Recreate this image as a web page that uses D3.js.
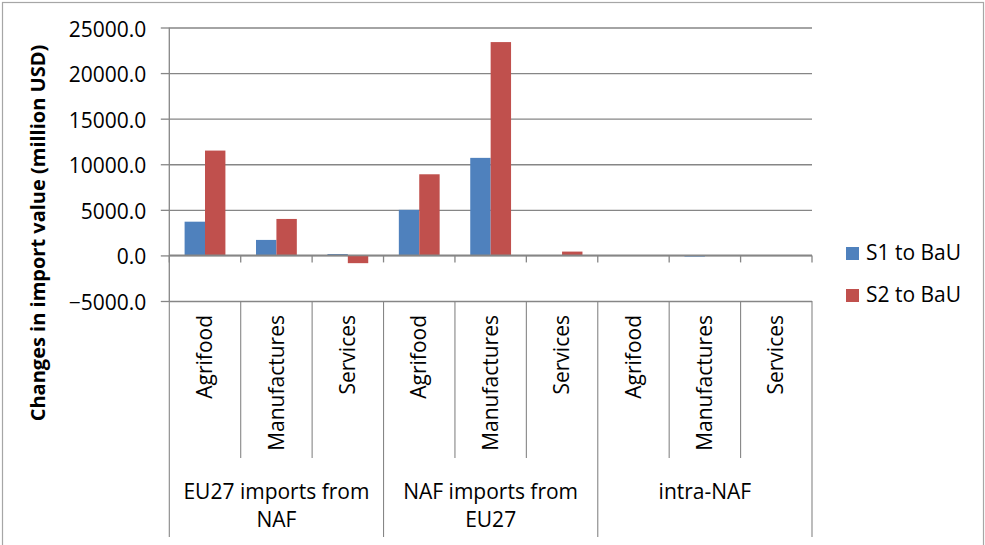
<!DOCTYPE html>
<html>
<head>
<meta charset="utf-8">
<script src="https://cdn.jsdelivr.net/npm/d3@7"></script>
<style>
  html, body { margin: 0; padding: 0; background: #fff; }
  svg { display: block; }
  text { font-family: "Open Sans", "Noto Sans", sans-serif; fill: #000; }
</style>
</head>
<body>
<svg id="chart" width="985" height="545"></svg>
<script>
// Trade flows, sectors and scenario changes (million USD)
const groups = ["EU27 imports from NAF", "NAF imports from EU27", "intra-NAF"];
const groupLines = [["EU27 imports from", "NAF"], ["NAF imports from", "EU27"], ["intra-NAF"]];
const sectors = ["Agrifood", "Manufactures", "Services"];
const seriesNames = ["S1 to BaU", "S2 to BaU"];
const s1Values = [3700, 1700, 150, 5000, 10700, 10, 10, -120, 10];
const s2Values = [11500, 4000, -850, 8900, 23400, 420, 20, -20, 10];
const yTicks = [-5000, 0, 5000, 10000, 15000, 20000, 25000];
const colors = ["#4F81BD", "#C0504D"];

const rows = [];
groups.forEach((g, gi) => sectors.forEach((s, si) => {
  const i = gi * sectors.length + si;
  rows.push({ key: i, group: g, sector: s, values: [s1Values[i], s2Values[i]] });
}));

const svg = d3.select("#chart");
const plot = { left: 169.3, right: 812, top: 27.5, bottom: 301 };
const axisColor = "#868686";

// outer frame
svg.append("rect")
  .attr("x", 2.5).attr("y", 2.5).attr("width", 981).attr("height", 560)
  .attr("fill", "none").attr("stroke", "#a6a6a6").attr("stroke-width", 1.2);

const x = d3.scaleBand().domain(rows.map(d => d.key)).range([plot.left, plot.right]).padding(0);
const xs = d3.scaleBand().domain([0, 1]).range([0, x.bandwidth()]).paddingInner(0).paddingOuter(0.75);
const y = d3.scaleLinear().domain([-5000, 25000]).range([plot.bottom, plot.top]);

// horizontal gridlines and y axis
const yAxis = d3.axisLeft(y).tickValues(yTicks).tickFormat(d3.format(".1f"))
  .tickSize(-(plot.right - plot.left)).tickSizeOuter(0).tickPadding(0);
const gy = svg.append("g").attr("transform", `translate(${plot.left},0)`).call(yAxis);
gy.select(".domain").remove();
gy.selectAll(".tick line").attr("stroke", axisColor).attr("stroke-width", 1.3);
gy.selectAll(".tick").append("line")
  .attr("x1", -8.5).attr("x2", 0).attr("stroke", axisColor).attr("stroke-width", 1.3);
gy.selectAll(".tick text")
  .attr("x", -23).attr("dy", null).attr("y", 8.5)
  .attr("font-size", 21).attr("font-family", "'Open Sans', sans-serif").attr("fill", "#000");

// y axis line
svg.append("line")
  .attr("x1", plot.left).attr("x2", plot.left).attr("y1", plot.top).attr("y2", plot.bottom)
  .attr("stroke", axisColor).attr("stroke-width", 1.3);

// bars
const gBars = svg.append("g");
rows.forEach(r => {
  gBars.selectAll(null).data(r.values.map((v, si) => ({ v, si }))).enter().append("rect")
    .attr("x", d => x(r.key) + xs(d.si))
    .attr("width", xs.bandwidth())
    .attr("y", d => y(Math.max(0, d.v)))
    .attr("height", d => Math.abs(y(d.v) - y(0)))
    .attr("fill", d => colors[d.si]);
});

// category axis at zero, with hanging ticks
svg.append("line")
  .attr("x1", plot.left).attr("x2", plot.right).attr("y1", y(0)).attr("y2", y(0))
  .attr("stroke", axisColor).attr("stroke-width", 1.6);
const boundaries = rows.map(d => x(d.key)).concat([plot.right]);
svg.selectAll(null).data(boundaries).enter().append("line")
  .attr("x1", d => d).attr("x2", d => d)
  .attr("y1", y(0)).attr("y2", y(0) + 7)
  .attr("stroke", axisColor).attr("stroke-width", 1.3);

// multi-level label separators
const labelTop = plot.bottom;
svg.selectAll(null).data(boundaries).enter().append("line")
  .attr("x1", d => d).attr("x2", d => d)
  .attr("y1", labelTop)
  .attr("y2", (d, i) => (i % sectors.length === 0) ? 537 : 458)
  .attr("stroke", axisColor).attr("stroke-width", 1.1);

// sector labels (rotated)
svg.selectAll(null).data(rows).enter().append("text")
  .attr("transform", d => `translate(${x(d.key) + x.bandwidth() / 2},315) rotate(-90)`)
  .attr("text-anchor", "end")
  .attr("dy", "0.34em")
  .attr("font-size", 21)
  .text(d => d.sector);

// group labels
const groupWidth = x.bandwidth() * sectors.length;
groupLines.forEach((lines, gi) => {
  const cx = plot.left + groupWidth * (gi + 0.5);
  lines.forEach((line, li) => {
    svg.append("text")
      .attr("x", cx).attr("y", 499 + li * 28)
      .attr("text-anchor", "middle")
      .attr("font-size", 21)
      .text(line);
  });
});

// y axis title
svg.append("text")
  .attr("transform", "translate(45,233) rotate(-90)")
  .attr("text-anchor", "middle")
  .attr("font-size", 20)
  .attr("font-weight", "bold")
  .text("Changes in import value (million USD)");

// legend
const legend = svg.append("g");
seriesNames.forEach((name, i) => {
  const ly = 247 + i * 42;
  legend.append("rect").attr("x", 846).attr("y", ly).attr("width", 13).attr("height", 13)
    .attr("fill", colors[i]);
  legend.append("text").attr("x", 866).attr("y", ly + 13).attr("font-size", 21).text(name);
});
</script>
</body>
</html>
